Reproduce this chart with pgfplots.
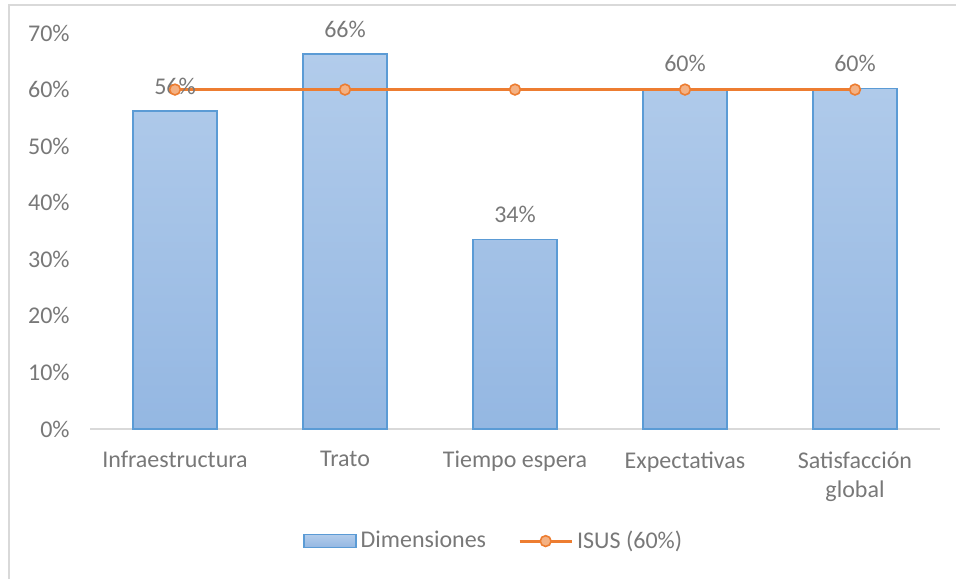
\documentclass[border=0pt]{standalone}
\usepackage{pgfplots}
\pgfplotsset{compat=1.18}
\usepackage{fontspec}
\setmainfont{Carlito}
\definecolor{txt}{RGB}{120,120,120}
\definecolor{barTop}{HTML}{B2CCEB}
\definecolor{barBot}{HTML}{94B7E2}
\definecolor{barEdge}{HTML}{5B9BD5}
\definecolor{isus}{HTML}{ED7D31}
\definecolor{isusFill}{HTML}{F4B183}
\definecolor{frame}{HTML}{D9D9D9}
\begin{document}
\begin{tikzpicture}
\fontsize{12}{14.4}\selectfont
\begin{axis}[
  at={(0pt,0pt)}, anchor=south west,
  scale only axis,
  width=425pt, height=198pt,
  xmin=-0.5, xmax=4.5,
  ymin=0, ymax=70,
  axis lines=left,
  axis line style={-},
  y axis line style={draw=none},
  x axis line style={draw=frame, line width=0.8pt},
  major tick length=0pt,
  xtick={0,1,2,3,4},
  xticklabels={Infraestructura, Trato, Tiempo espera, Expectativas, {Satisfacción\\global}},
  xticklabel style={align=center, font=\fontsize{12}{14.5}\selectfont, text=txt, yshift=-7pt},
  ytick={0,10,20,30,40,50,60,70},
  yticklabels={0\%,10\%,20\%,30\%,40\%,50\%,60\%,70\%},
  yticklabel style={font=\fontsize{12}{14.4}\selectfont, text=txt, xshift=-6pt},
  /pgf/number format/assume math mode=true,
  legend columns=2,
  legend style={at={(0.476,-0.283)}, anchor=center, draw=none, fill=none,
    font=\fontsize{12}{14.4}\selectfont, text=txt,
    /tikz/every even column/.append style={column sep=14pt}},
  clip=false,
]
\addplot[ybar, bar width=42pt, draw=barEdge, line width=0.8pt,
  top color=barTop, bottom color=barBot,
  nodes near coords={\pgfmathprintnumber[fixed,precision=0]{\pgfplotspointmeta}\%},
  point meta=y,
  every node near coord/.append style={font=\fontsize{12}{14.4}\selectfont, text=txt, yshift=3.8pt},
  legend image code/.code={\draw[draw=barEdge, line width=0.8pt, top color=barTop, bottom color=barBot] (0pt,-3.2pt) rectangle (26pt,3.2pt);}
] coordinates {(0,56.2) (1,66.3) (2,33.5) (3,60.2) (4,60.2)};
\addlegendentry{Dimensiones}
\addplot[isus, line width=1.5pt, mark=*, mark size=2.7pt,
  mark options={fill=isusFill, draw=isus, line width=0.8pt},
  legend image code/.code={\draw[isus, line width=1.5pt] (0pt,0pt) -- (26pt,0pt); \draw[fill=isusFill, draw=isus, line width=0.8pt] (13pt,0pt) circle (2.7pt);}
] coordinates {(0,60) (1,60) (2,60) (3,60) (4,60)};
\addlegendentry{ISUS (60\%)}
\end{axis}
\draw[frame, line width=0.8pt] (-40.5pt,-75pt) -- (-40.5pt,212pt) -- (433pt,212pt);
\pgfresetboundingbox
\path[use as bounding box] (-45pt,-75pt) rectangle (433pt,214.5pt);
\end{tikzpicture}
\end{document}
